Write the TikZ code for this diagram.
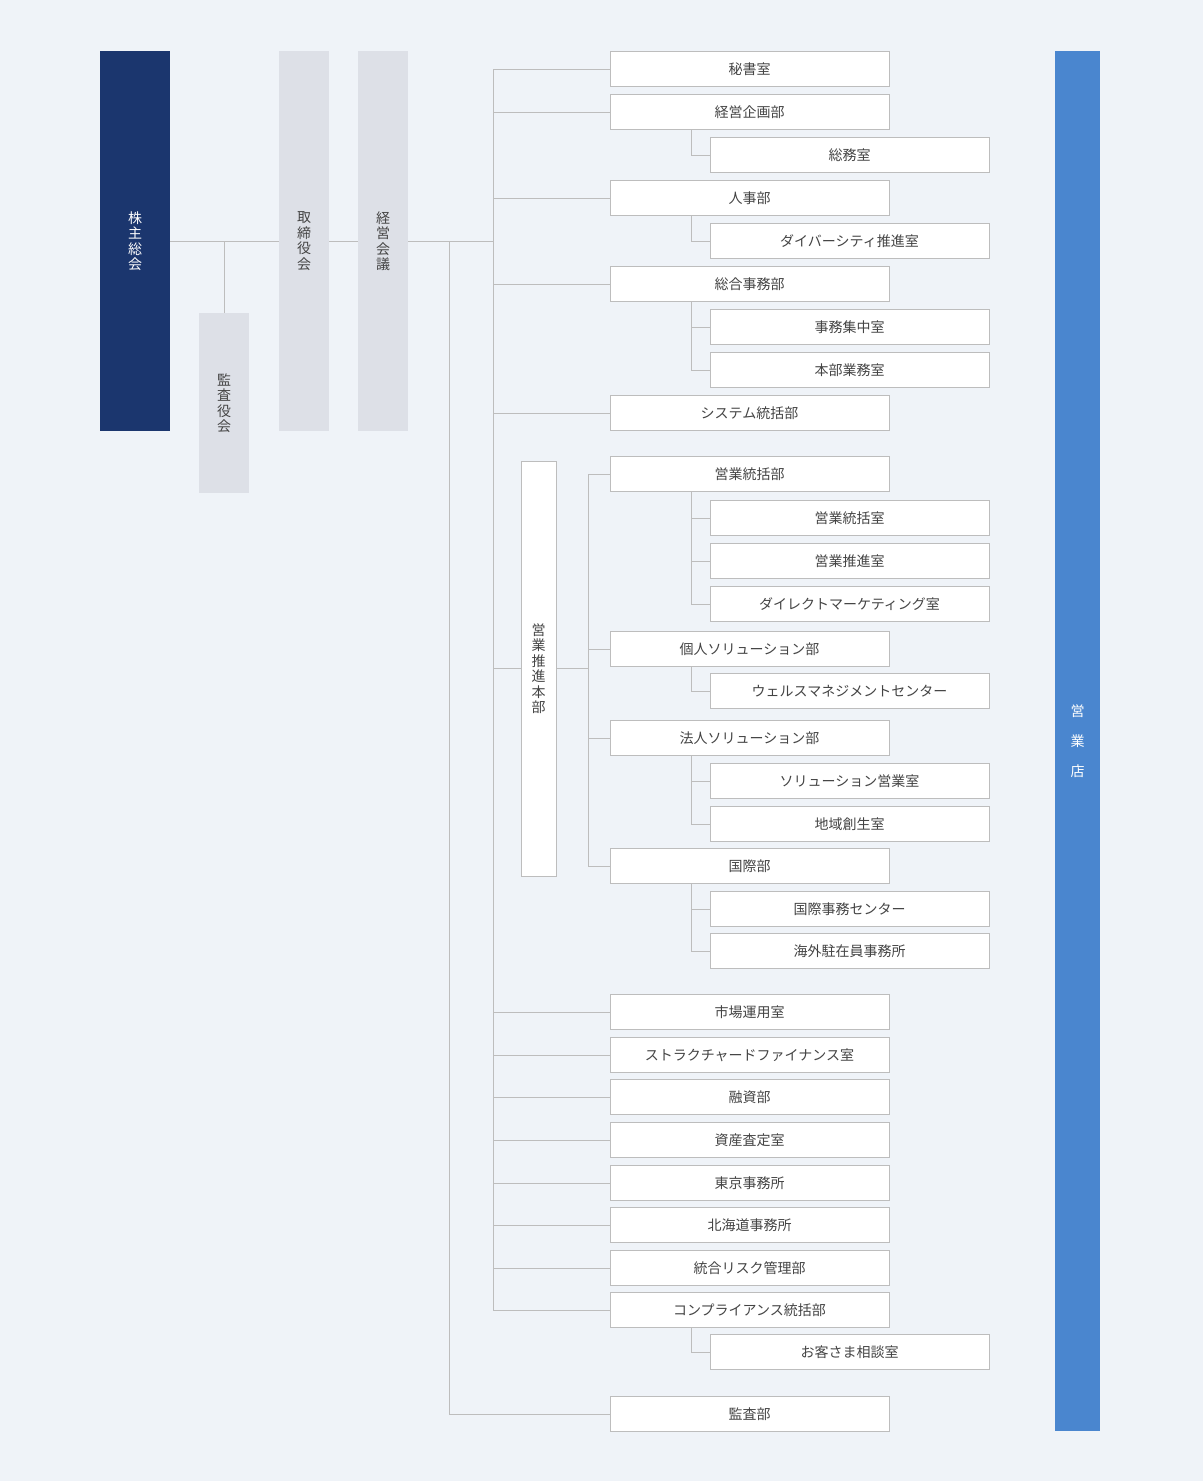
\documentclass[tikz,border=0pt]{standalone}
\usepackage{fontspec}
\setmainfont{Noto Sans CJK JP}
\definecolor{bg}{HTML}{EFF3F8}
\definecolor{navy}{HTML}{1B366E}
\definecolor{pale}{HTML}{DDE0E7}
\definecolor{shop}{HTML}{4A86CF}
\definecolor{ln}{HTML}{BDBDBD}
\definecolor{txt}{HTML}{444444}
\tikzset{
  dept/.style={draw=ln,fill=white,minimum width=279pt,minimum height=35pt,inner sep=0pt,text=txt},
  sect/.style={draw=ln,fill=white,minimum width=279pt,minimum height=35pt,inner sep=0pt,text=txt},
  board/.style={fill=pale,minimum width=50pt,inner sep=0pt,text=txt,align=center,font=\fontsize{14}{15.5}\selectfont},
  link/.style={draw=ln,line width=1pt}
}
\begin{document}
\begin{tikzpicture}[x=1pt,y=-1pt,font=\fontsize{14}{16}\selectfont]
\fill[bg] (0,0) rectangle (1203,1481);
\useasboundingbox (0,0) rectangle (1203,1481);
% top bodies
\node[board,fill=navy,text=white,minimum width=70pt,minimum height=380pt] (soukai) at (135,241) {株\\主\\総\\会};
\node[board,minimum height=180pt] (kansayaku) at (224,403) {監\\査\\役\\会};
\node[board,minimum height=380pt] (torishimari) at (304,241) {取\\締\\役\\会};
\node[board,minimum height=380pt] (keiei) at (383,241) {経\\営\\会\\議};
\node[board,fill=shop,text=white,minimum width=45pt,minimum height=1380pt,font=\fontsize{14}{30}\selectfont] (eigyoten) at (1077.5,741) {営\\業\\店};
\coordinate (trunkA) at (493,0);
\coordinate (trunkB) at (449,0);
\coordinate (trunkC) at (588,0);
\coordinate (sub) at (691,0);
\coordinate (mid) at (224,241);
\draw[link] (soukai.east |- mid) -- (torishimari.west |- mid);
\draw[link] (torishimari.east |- mid) -- (keiei.west |- mid);
\draw[link] (keiei.east |- mid) -- (trunkA |- mid);
\draw[link] (mid) -- (kansayaku.north);
% departments
\foreach \n/\y/\t in {hisho/69/秘書室, kikaku/112/経営企画部, jinji/198/人事部, jimu/284/総合事務部,
    system/413/システム統括部, shijo/1012/市場運用室, struct/1055/ストラクチャードファイナンス室,
    yushi/1097/融資部, shisan/1140/資産査定室, tokyo/1183/東京事務所, hokkaido/1225/北海道事務所,
    risk/1268/統合リスク管理部, comp/1310/コンプライアンス統括部}
  {\node[dept] (\n) at (749.5,\y) {\t};
   \draw[link] (trunkA |- \n.west) -- (\n.west);}
\node[dept] (kansa) at (749.5,1414) {監査部};
\draw[link] (trunkA |- hisho.west) -- (trunkA |- comp.west);
\draw[link] (trunkB |- mid) -- (trunkB |- kansa.west) -- (kansa.west);
% sales headquarters
\node[draw=ln,fill=white,minimum width=35pt,minimum height=415pt,inner sep=0pt,text=txt,align=center,font=\fontsize{14}{15.5}\selectfont] (honbu) at (538.5,668.5) {営\\業\\推\\進\\本\\部};
\foreach \n/\y/\t in {tokatsu/474/営業統括部, kojin/649/個人ソリューション部, hojin/738/法人ソリューション部, kokusai/866/国際部}
  {\node[dept] (\n) at (749.5,\y) {\t};
   \draw[link] (trunkC |- \n.west) -- (\n.west);}
\draw[link] (trunkC |- tokatsu.west) -- (trunkC |- kokusai.west);
\draw[link] (trunkA |- honbu.west) -- (honbu.west);
\draw[link] (honbu.east) -- (trunkC |- honbu.east);
% sections
\foreach \n/\p/\y/\t in {somu/kikaku/155/総務室, diversity/jinji/241/ダイバーシティ推進室,
    shuchu/jimu/327/事務集中室, gyomu/jimu/370/本部業務室, tokatsushitsu/tokatsu/518/営業統括室,
    suishin/tokatsu/561/営業推進室, direct/tokatsu/604/ダイレクトマーケティング室,
    wealth/kojin/691/ウェルスマネジメントセンター, solution/hojin/781/ソリューション営業室,
    chiiki/hojin/824/地域創生室, kjimu/kokusai/909/国際事務センター, kaigai/kokusai/951/海外駐在員事務所,
    okyaku/comp/1352/お客さま相談室}
  {\node[sect] (\n) at (849.5,\y) {\t};
   \draw[link] (sub |- \p.south) |- (\n.west);}
\end{tikzpicture}
\end{document}
